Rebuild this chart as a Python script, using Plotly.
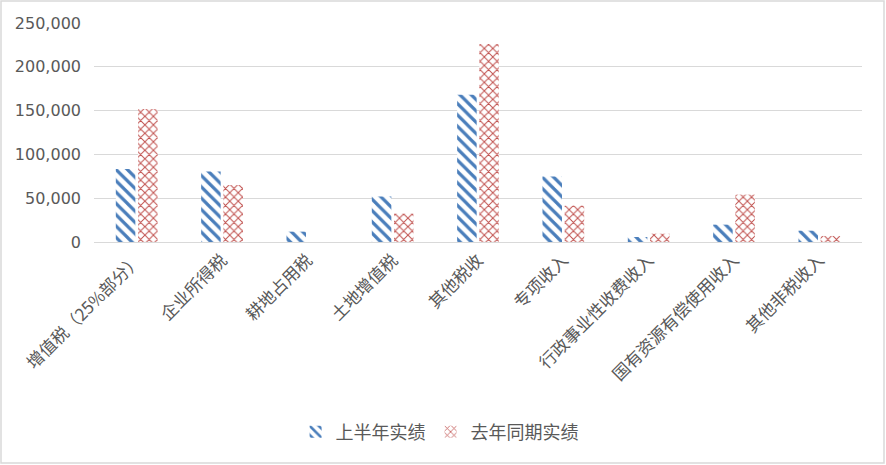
import plotly.graph_objects as go

categories = ["增值税（25%部分）", "企业所得税", "耕地占用税", "土地增值税", "其他税收",
              "专项收入", "行政事业性收费收入", "国有资源有偿使用收入", "其他非税收入"]
series_names = ["上半年实绩", "去年同期实绩"]
first_half = [83400, 80400, 11800, 51800, 168000, 74700, 5700, 19800, 12900]
last_year = [151700, 65200, 0, 32400, 226000, 41500, 9500, 54100, 6900]
y_ticks = [0, 50000, 100000, 150000, 200000, 250000]

W, H = 886, 465
L, R, T, B = 94, 24, 23, 223
pw, ph = W - L - R, H - T - B

fig = go.Figure()
fig.add_trace(go.Bar(
    x=categories, y=first_half, name=series_names[0],
    marker=dict(color="white", line=dict(width=0),
                pattern=dict(shape="\\", fgcolor="#4A7EBB", bgcolor="white",
                             size=8, solidity=0.4, fillmode="replace")),
))
fig.add_trace(go.Bar(
    x=categories, y=last_year, name=series_names[1],
    marker=dict(color="white", line=dict(width=0),
                pattern=dict(shape="x", fgcolor="#C0504D", bgcolor="white",
                             size=6, solidity=0.3, fillmode="replace")),
))

fig.update_layout(
    width=W, height=H,
    margin=dict(l=L, r=R, t=T, b=B, autoexpand=False),
    paper_bgcolor="white", plot_bgcolor="white",
    barmode="group", bargap=0.48, bargroupgap=0.12,
    font=dict(family="Noto Sans CJK SC", color="#595959", size=17),
    showlegend=True,
    legend=dict(orientation="h", x=0.45, xanchor="center", y=-0.868, yanchor="middle",
                font=dict(size=18, family="Noto Sans CJK SC", color="#595959"),
                itemwidth=30, bgcolor="rgba(0,0,0,0)"),
    xaxis=dict(tickangle=-45, showgrid=False, showline=False, ticks="",
               ticklabelstandoff=4,
               tickfont=dict(size=17, family="Noto Sans CJK SC", color="#595959")),
    yaxis=dict(range=[0, 250000], tickvals=y_ticks, tickformat=",d",
               showgrid=True, gridcolor="#D9D9D9", gridwidth=1,
               zeroline=True, zerolinecolor="#D9D9D9", zerolinewidth=1,
               showline=False, ticks="", ticklabelstandoff=12,
               tickfont=dict(size=16, family="DejaVu Sans", color="#595959")),
    shapes=[dict(type="rect", xref="paper", yref="paper",
                 x0=(1 - L) / pw, x1=(W - 2 - L) / pw,
                 y0=-(H - 2 - T - ph) / ph, y1=(ph + T - 1) / ph,
                 line=dict(color="#D9D9D9", width=1.5), fillcolor="rgba(0,0,0,0)")],
)

fig.write_html("out.html", config={"displayModeBar": False},
               post_script="document.body.style.margin='0';document.body.style.overflow='hidden';")
